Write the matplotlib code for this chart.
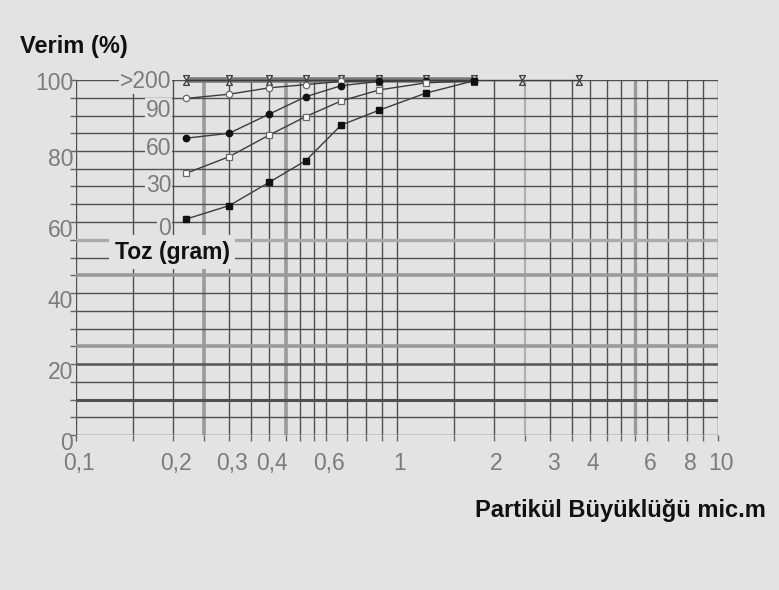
import matplotlib
matplotlib.use("Agg")
import matplotlib.pyplot as plt
import matplotlib.transforms as mtransforms
from matplotlib.path import Path
from matplotlib.ticker import NullFormatter

# ---------------- data ----------------
particle_size = [0.22, 0.30, 0.40, 0.52, 0.67, 0.88, 1.23, 1.74, 2.45, 3.69]
toz_0 = [60.8, 64.6, 71.2, 77.3, 87.3, 91.5, 96.3, 99.8]
toz_30 = [73.7, 78.4, 84.5, 89.7, 94.1, 97.2, 99.2, 99.8]
toz_60 = [83.6, 85.0, 90.4, 95.3, 98.4, 99.6, 99.8]
toz_90 = [94.8, 96.0, 97.8, 98.7, 99.6, 99.8]
toz_200 = [100, 100, 100, 100, 100, 100, 100, 100, 100, 100]

x_tick_values = [0.1, 0.2, 0.3, 0.4, 0.6, 1, 2, 3, 4, 6, 8, 10]
x_tick_labels = ["0,1", "0,2", "0,3", "0,4", "0,6", "1", "2", "3", "4", "6", "8", "10"]
y_tick_values = [0, 20, 40, 60, 80, 100]
y_tick_labels = ["0", "20", "40", "60", "80", "100"]
toz_labels = [">200", "90", "60", "30", "0"]
toz_label_levels = [99.7, 91.5, 80.8, 70.4, 58.3]

grid_multiples = [1, 1.5, 2, 2.5, 3, 3.5, 4, 4.5, 5, 5.5, 6, 7, 8, 9]
grid_x = [d * m for d in (0.1, 1.0) for m in grid_multiples] + [10]
grid_y = list(range(0, 101, 5))

# ---------------- style ----------------
BG = "#e3e3e3"
GRID = "#4f4f4f"
LABEL = "#7c7c7c"
FONT = "Liberation Sans"
TICK_FS = 16.5

fig = plt.figure(figsize=(7.79, 5.90), dpi=100, facecolor=BG)
W, H = 779, 590
left, right, top, bottom = 76, 718, 80, 435
ax = fig.add_axes([left / W, 1 - bottom / H, (right - left) / W, (bottom - top) / H])
ax.set_facecolor(BG)
ax.set_xscale("log")
ax.set_xlim(0.1, 10)
ax.set_ylim(0, 100)
for s in ax.spines.values():
    s.set_visible(False)

# grid
thick_x = {0.25: ("#9a9a9a", 2.6), 0.45: ("#9a9a9a", 2.6), 5.5: ("#9a9a9a", 2.4), 2.5: ("#b0b0b0", 1.6)}
for gx in grid_x:
    key = round(gx, 3)
    col, lw = thick_x.get(key, (GRID, 1.0))
    ax.axvline(gx, color=col, lw=lw, zorder=1)
thick_y = {55: ("#ababab", 2.4), 45: ("#9a9a9a", 2.6), 25: ("#9a9a9a", 2.6), 20: ("#555555", 1.8), 10: ("#505050", 2.2)}
for gy in grid_y:
    col, lw = thick_y.get(gy, (GRID, 1.0))
    ax.axhline(gy, color=col, lw=lw, zorder=1)

# ticks
ax.set_xticks(x_tick_values)
ax.set_xticklabels(x_tick_labels)
ax.set_xticks(grid_x, minor=True)
ax.xaxis.set_minor_formatter(NullFormatter())
ax.set_yticks(y_tick_values)
ax.set_yticklabels(y_tick_labels)
ax.set_yticks(grid_y, minor=True)
ax.tick_params(axis="both", which="both", direction="out", length=4.3, width=1.0, color="#666666")
ax.tick_params(axis="x", which="major", pad=8.0, labelsize=TICK_FS, labelcolor=LABEL)
ax.tick_params(axis="y", which="major", pad=-2.2, labelsize=TICK_FS, labelcolor=LABEL)
for lab in ax.get_xticklabels():
    lab.set_fontfamily(FONT)
    lab.set_transform(lab.get_transform() + mtransforms.ScaledTranslation(3 / 100, 0, fig.dpi_scale_trans))
for lab, v in zip(ax.get_yticklabels(), y_tick_values):
    lab.set_fontfamily(FONT)
    dy = -1 if v == 100 else -6
    lab.set_transform(lab.get_transform() + mtransforms.ScaledTranslation(0, dy / 100, fig.dpi_scale_trans))

# series
hourglass = Path([(-0.6, 1), (0.6, 1), (-0.6, -1), (0.6, -1), (-0.6, 1)], closed=True)
line_kw = dict(color="#3c3c3c", lw=1.0, zorder=3, clip_on=False)
ax.plot(particle_size[:8], toz_200[:8], color="#7a7a7a", lw=4.0, zorder=2, solid_capstyle="butt", clip_on=False)
ax.plot(particle_size, toz_200, marker=hourglass, ms=7, mfc="#f4f4f4", mec="#444444", mew=1.0, **line_kw)
ax.plot(particle_size[:len(toz_90)], toz_90, marker="o", ms=4.6, mfc="white", mec="#6a6a6a", mew=0.9, **line_kw)
ax.plot(particle_size[:len(toz_60)], toz_60, marker="o", ms=4.6, mfc="#111111", mec="#111111", **line_kw)
ax.plot(particle_size[:len(toz_30)], toz_30, marker="s", ms=4.3, mfc="white", mec="#6a6a6a", mew=0.9, **line_kw)
ax.plot(particle_size[:len(toz_0)], toz_0, marker="s", ms=4.3, mfc="#111111", mec="#111111", **line_kw)

# inner "Toz (gram)" scale labels
for txt, lvl in zip(toz_labels, toz_label_levels):
    ax.text(0.198, lvl, txt, ha="right", va="center", fontsize=TICK_FS, color=LABEL, fontfamily=FONT,
            zorder=4, bbox=dict(boxstyle="square,pad=0.05", fc=BG, ec="none"))
ax.text(0.132, 51.5, "Toz (gram)", ha="left", va="center", fontsize=16.5, fontweight="bold",
        color="#111111", fontfamily=FONT, zorder=4,
        bbox=dict(boxstyle="square,pad=0.25", fc=BG, ec="none"))

# axis titles
fig.text(20 / W, 1 - 46 / H, "Verim (%)", ha="left", va="center", fontsize=17, fontweight="bold",
         color="#111111", fontfamily=FONT)
fig.text(475 / W, 1 - 510 / H, "Partikül Büyüklüğü mic.m", ha="left", va="center", fontsize=17,
         fontweight="bold", color="#111111", fontfamily=FONT)

fig.savefig("out.png", dpi=100, facecolor=BG)
